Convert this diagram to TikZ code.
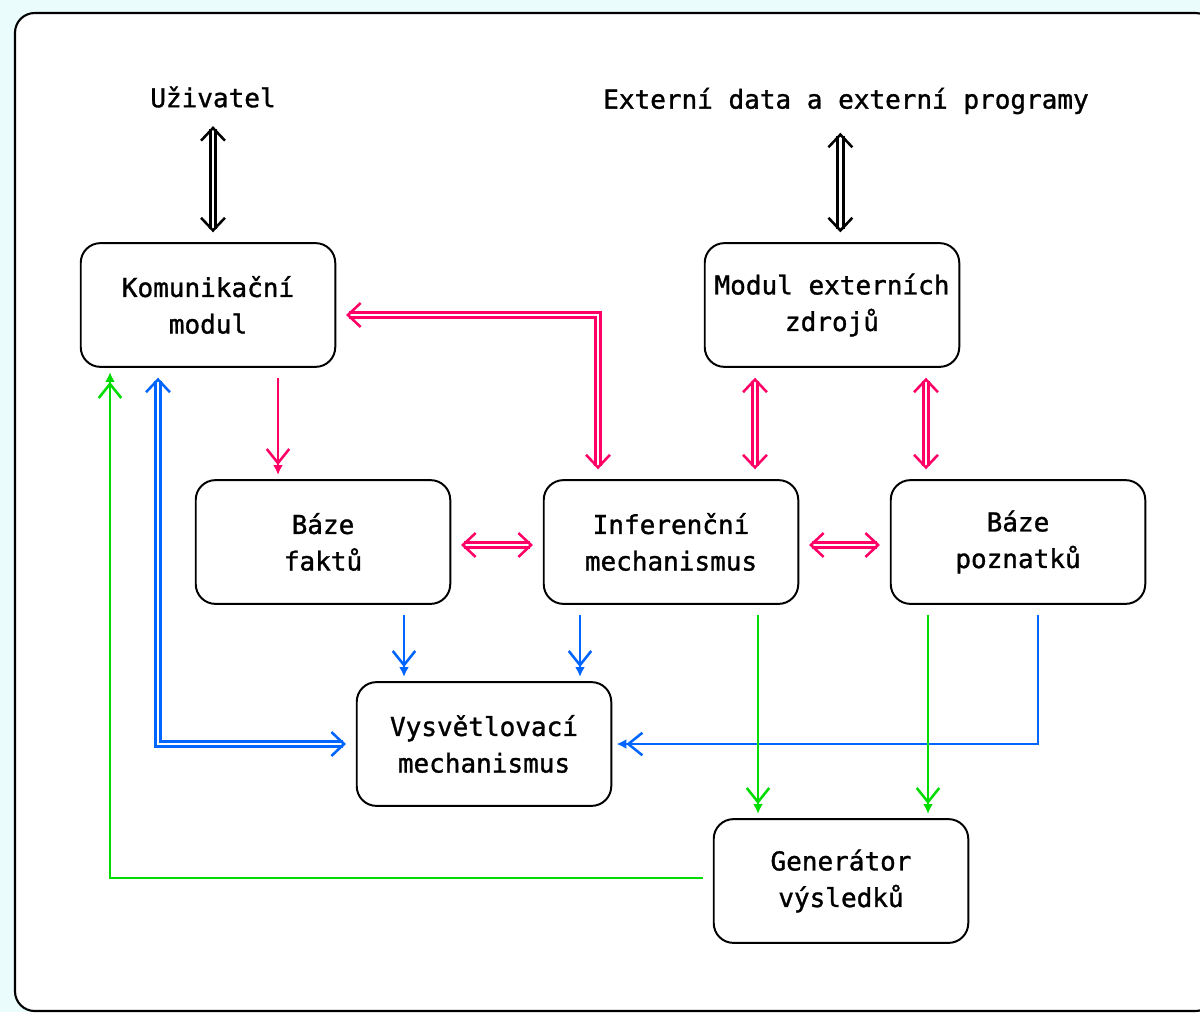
\documentclass[tikz,border=0pt]{standalone}
\usepackage{fontspec}
\newfontfamily\pixfont[FakeBold=1.2]{DejaVu Sans Mono}
\usetikzlibrary{arrows.meta,calc}
\definecolor{ruz}{RGB}{255,0,102}
\definecolor{modr}{RGB}{0,102,255}
\definecolor{zel}{RGB}{0,220,0}
\definecolor{pozadi}{RGB}{234,252,252}
\tikzset{
  every node/.style={font=\pixfont\fontsize{18.5}{26}\selectfont},
  box/.style={draw,line width=1.4pt,rounded corners=14pt,fill=white,
    minimum width=181pt,minimum height=88pt,align=center},
  popis/.style={inner sep=1pt},
  dvoj/.style={double,double distance=2pt,line width=2pt,
    shorten >=7pt,shorten <=7pt},
  dvojobe/.style={dvoj,
    {Straight Barb[length=9pt,width=17pt,line width=1.8pt]}-{Straight Barb[length=9pt,width=17pt,line width=1.8pt]}},
  jedn/.style={line width=1.8pt,
    -{Straight Barb[length=10pt,width=16pt]Latex[length=7pt,width=7pt,sep=-4pt]},
    shorten >=7pt,shorten <=7pt},
}
\begin{document}
\begin{tikzpicture}[x=0.025cm,y=-0.025cm]
  \useasboundingbox (0,0) rectangle (1200,1012);
  \fill[pozadi] (0,0) rectangle (1200,1012);
  \draw[line width=1.5pt,fill=white,rounded corners=14pt] (15,13) rectangle (1215,1011);

  % texty nahore
  \node[popis] (uziv) at (213,97) {Uživatel};
  \node[popis] (ext) at (846,101) {Externí data a externí programy};

  % moduly
  \node[box] (kom) at (208,305) {Komunikační\\modul};
  \node[box] (modext) at (832,305) {Modul externích\\zdrojů};
  \node[box] (baf) at (323,542) {Báze\\faktů};
  \node[box] (inf) at (671,542) {Inferenční\\mechanismus};
  \node[box] (bap) at (1018,542) {Báze\\poznatků};
  \node[box] (vys) at (484,744) {Vysvětlovací\\mechanismus};
  \node[box] (gen) at (841,881) {Generátor\\výsledků};

  % cerne
  \draw[dvojobe,shorten <=12pt] (uziv.south) -- (uziv.south |- kom.north);
  \draw[dvojobe,shorten <=12pt] ([xshift=-4pt]ext.south) -- ([xshift=-4pt]ext.south |- modext.north);

  % cervene
  \draw[dvojobe,ruz] ($(kom.east)+(0,10)$) -| ($(inf.north)+(-73,0)$);
  \draw[jedn,ruz] ($(kom.south)+(70,0)$) -- ($(baf.north)+(-45,0)$);
  \draw[dvojobe,ruz] ($(modext.south)+(-77,0)$) -- ($(inf.north)+(84,0)$);
  \draw[dvojobe,ruz] ($(modext.south)+(94,0)$) -- ($(bap.north)+(-92,0)$);
  \draw[dvojobe,ruz] ($(baf.east)+(0,3)$) -- ($(inf.west)+(0,3)$);
  \draw[dvojobe,ruz] ($(inf.east)+(0,3)$) -- ($(bap.west)+(0,3)$);

  % modre
  \draw[jedn,modr] ($(baf.south)+(81,0)$) -- ($(vys.north)+(-80,0)$);
  \draw[jedn,modr] ($(inf.south)+(-91,0)$) -- ($(vys.north)+(96,0)$);
  \draw[dvojobe,modr] ($(kom.south)+(-50,0)$) |- (vys.west);
  \draw[jedn,modr] ($(bap.south)+(20,0)$) |- (vys.east);

  % zelene
  \draw[jedn,zel] ($(inf.south)+(87,0)$) -- ($(gen.north)+(-83,0)$);
  \draw[jedn,zel] ($(bap.south)+(-90,0)$) -- ($(gen.north)+(87,0)$);
  \draw[jedn,zel] ($(gen.west)+(0,-3)$) -| ($(kom.south)+(-98,0)$);
\end{tikzpicture}
\end{document}
